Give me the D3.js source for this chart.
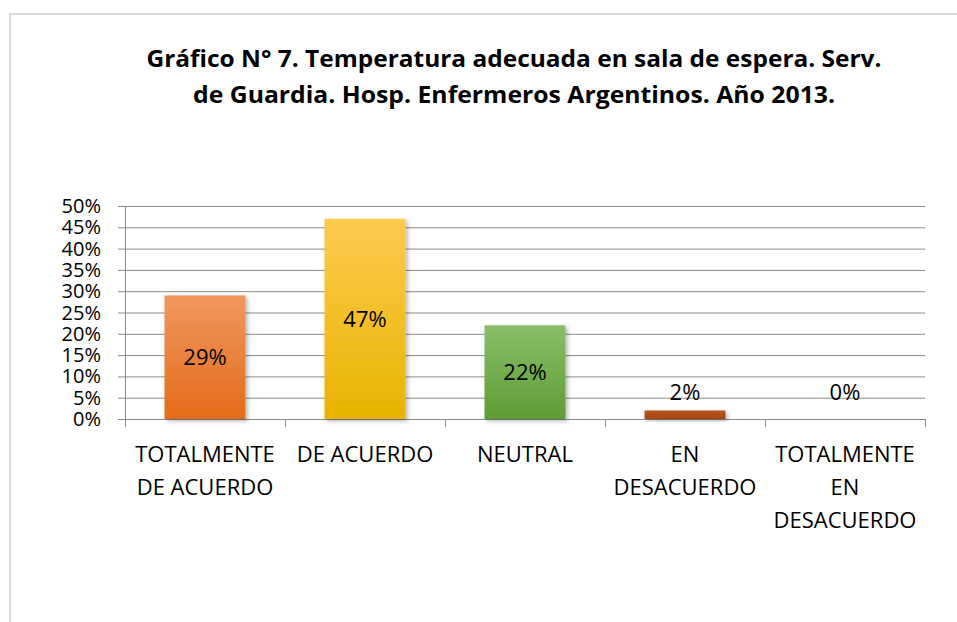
<!DOCTYPE html>
<html>
<head>
<meta charset="utf-8">
<script src="https://cdn.jsdelivr.net/npm/d3@7"></script>
<style>
  body { margin: 0; background: #fff; }
  text { font-family: "Open Sans", "Noto Sans", sans-serif; fill: #000; }
</style>
</head>
<body>
<svg id="grafica" width="957" height="622"></svg>
<script>
var titulo = ["Gráfico N° 7. Temperatura adecuada en sala de espera. Serv.",
              "de Guardia. Hosp. Enfermeros Argentinos. Año 2013."]
var categorias = ["TOTALMENTE DE ACUERDO", "DE ACUERDO", "NEUTRAL", "EN DESACUERDO", "TOTALMENTE EN DESACUERDO"]
var etiquetas = [["TOTALMENTE", "DE ACUERDO"], ["DE ACUERDO"], ["NEUTRAL"], ["EN", "DESACUERDO"], ["TOTALMENTE", "EN", "DESACUERDO"]]
var valores = [29, 47, 22, 2, 0]
var ticks = [0, 5, 10, 15, 20, 25, 30, 35, 40, 45, 50]
var colores = [["#f1975f", "#e46b19"], ["#ffca4f", "#e8b400"], ["#89bf69", "#5d9c33"], ["#b9561f", "#a4460f"], ["#b9561f", "#a4460f"]]

var data = categorias.map((c, i) => ({name: c, value: valores[i], lines: etiquetas[i], color: colores[i]}))

var svg = d3.select("#grafica")
var defs = svg.append("defs")

// marco
svg.append("rect")
  .attr("x", 10).attr("y", 14)
  .attr("width", 1000).attr("height", 700)
  .attr("fill", "none")
  .attr("stroke", "#d9d9d9")
  .attr("stroke-width", 2)

// titulo
var anchos = [735, 642]
titulo.forEach(function(t, i) {
  svg.append("text")
    .attr("x", 514).attr("y", 67 + i * 36)
    .attr("text-anchor", "middle")
    .attr("font-size", 24)
    .attr("font-weight", "bold")
    .attr("textLength", anchos[i])
    .attr("lengthAdjust", "spacingAndGlyphs")
    .text(t)
})

var x = d3.scaleBand()
  .domain(categorias)
  .range([125, 925])
  .padding(0)

var y = d3.scaleLinear()
  .domain([0, 50])
  .range([419, 206])

// sombra
var f = defs.append("filter").attr("id", "sombra")
  .attr("x", "-20%").attr("y", "-20%").attr("width", "150%").attr("height", "150%")
f.append("feDropShadow")
  .attr("dx", 2).attr("dy", 2).attr("stdDeviation", 2)
  .attr("flood-color", "#000").attr("flood-opacity", 0.3)

data.forEach(function(d, i) {
  var g = defs.append("linearGradient").attr("id", "grad" + i)
    .attr("x1", 0).attr("y1", 0).attr("x2", 0).attr("y2", 1)
  g.append("stop").attr("offset", "0%").attr("stop-color", d.color[0])
  g.append("stop").attr("offset", "100%").attr("stop-color", d.color[1])
})

// lineas de grilla
svg.append("g")
  .selectAll("line")
  .data(ticks)
  .join("line")
  .attr("x1", 118).attr("x2", 925)
  .attr("y1", d => y(d) + 0.5).attr("y2", d => y(d) + 0.5)
  .attr("stroke", "#8a8a8a")
  .attr("stroke-width", 1)

// eje y
svg.append("line")
  .attr("x1", 125.5).attr("x2", 125.5)
  .attr("y1", y(50)).attr("y2", y(0) + 1)
  .attr("stroke", "#8a8a8a")

svg.append("g")
  .selectAll("text")
  .data(ticks)
  .join("text")
  .attr("x", 101)
  .attr("y", d => y(d) + 7)
  .attr("text-anchor", "end")
  .attr("font-size", 20)
  .text(d => d + "%")

// eje x, marcas
var bordes = categorias.map(c => x(c)).concat([x.range()[1]])
svg.append("g")
  .selectAll("line")
  .data(bordes)
  .join("line")
  .attr("x1", d => d + 0.5).attr("x2", d => d + 0.5)
  .attr("y1", y(0)).attr("y2", y(0) + 8)
  .attr("stroke", "#8a8a8a")

// barras
var ancho = x.bandwidth() * 0.506
svg.append("g")
  .selectAll("rect")
  .data(data.filter(d => d.value > 0))
  .join("rect")
  .attr("x", d => x(d.name) + (x.bandwidth() - ancho) / 2)
  .attr("y", d => y(d.value))
  .attr("width", ancho)
  .attr("height", d => y(0) - y(d.value))
  .attr("fill", d => "url(#grad" + data.indexOf(d) + ")")
  .attr("filter", "url(#sombra)")

// valores
svg.append("g")
  .selectAll("text")
  .data(data)
  .join("text")
  .attr("x", d => x(d.name) + x.bandwidth() / 2)
  .attr("y", d => d.value > 10 ? (y(d.value) + y(0)) / 2 + 8 : Math.min(y(d.value), y(2)) - 10)
  .attr("text-anchor", "middle")
  .attr("font-size", 22)
  .text(d => d.value + "%")

// etiquetas categorias
var et = svg.append("g")
  .selectAll("text")
  .data(data)
  .join("text")
  .attr("text-anchor", "middle")
  .attr("font-size", 22)
et.selectAll("tspan")
  .data(d => d.lines.map(l => ({l: l, cx: x(d.name) + x.bandwidth() / 2})))
  .join("tspan")
  .attr("x", d => d.cx)
  .attr("y", (d, i) => 462 + i * 33)
  .text(d => d.l)
</script>
</body>
</html>
